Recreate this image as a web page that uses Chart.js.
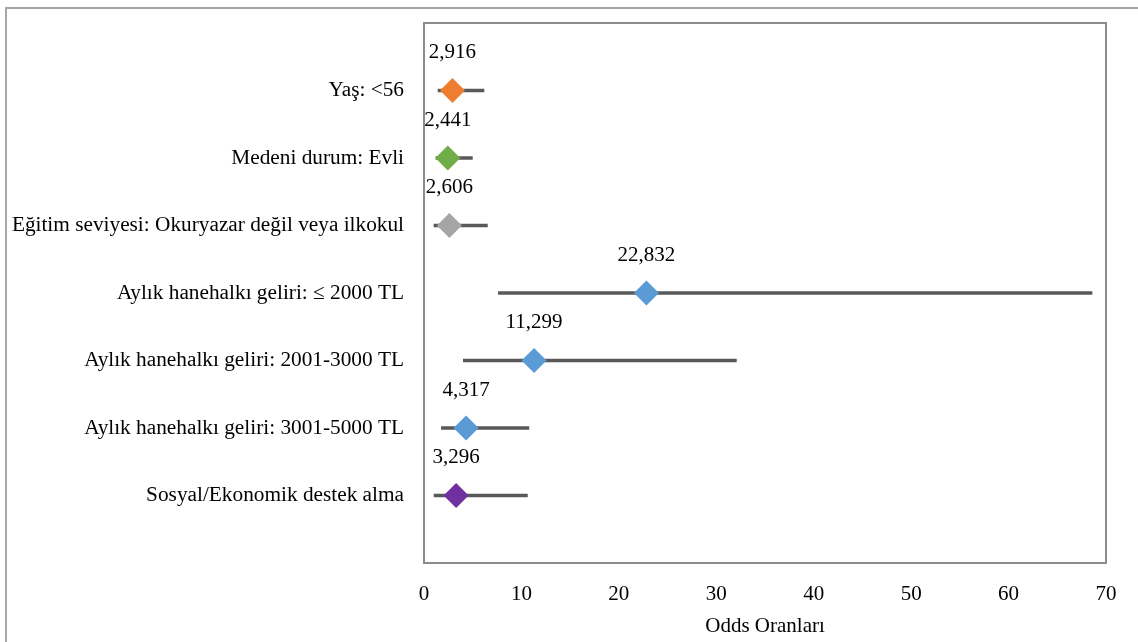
<!DOCTYPE html>
<html>
<head>
<meta charset="utf-8">
<script src="https://cdn.jsdelivr.net/npm/chart.js@4.4.1/dist/chart.umd.min.js"></script>
<style>
  html, body { margin: 0; padding: 0; background: #fff; overflow: hidden; }
  #frame { position: absolute; left: 5px; top: 7px; width: 1200px; height: 700px;
           border-left: 2px solid #a6a6a6; border-top: 2px solid #a6a6a6; }
  #wrap { position: absolute; left: 0; top: 0; width: 1138px; height: 642px; }
</style>
</head>
<body>
<div id="frame"></div>
<div id="wrap"><canvas id="c" width="1138" height="642"></canvas></div>
<script>
// Odds ratios with 95% confidence intervals, one row per factor
const categories = [
  'Yaş: <56',
  'Medeni durum: Evli',
  'Eğitim seviyesi: Okuryazar değil veya ilkokul',
  'Aylık hanehalkı geliri: ≤ 2000 TL',
  'Aylık hanehalkı geliri: 2001-3000 TL',
  'Aylık hanehalkı geliri: 3001-5000 TL',
  'Sosyal/Ekonomik destek alma'
];
const oddsRatios = [2.916, 2.441, 2.606, 22.832, 11.299, 4.317, 3.296];
const ciLower    = [1.41, 1.2, 0.99, 7.6, 4.0, 1.75, 1.0];
const ciUpper    = [6.19, 5.0, 6.54, 68.6, 32.1, 10.8, 10.65];
const markerColors = ['#ED7D31', '#70AD47', '#A5A5A5', '#5B9BD5', '#5B9BD5', '#5B9BD5', '#7030A0'];
const xTicks = [0, 10, 20, 30, 40, 50, 60, 70];

const FONT = "'Liberation Serif', 'Times New Roman', serif";

// one short line per row for the confidence interval
const ciDatasets = categories.map((c, i) => ({
  type: 'line',
  data: [{ x: ciLower[i], y: i + 1 }, { x: ciUpper[i], y: i + 1 }],
  borderColor: '#595959',
  borderWidth: 3.5,
  pointRadius: 0,
  showLine: true,
  fill: false,
  order: 2,
  datalabel: false
}));

const pointDataset = {
  type: 'scatter',
  data: oddsRatios.map((v, i) => ({ x: v, y: i + 1 })),
  pointStyle: 'rectRot',
  pointRadius: 12.5,
  pointHoverRadius: 12.5,
  pointBackgroundColor: markerColors,
  pointBorderColor: markerColors,
  pointBorderWidth: 0,
  order: 1,
  datalabel: true
};

// value labels above each diamond, decimal comma
const valueLabels = {
  id: 'valueLabels',
  afterDatasetsDraw(chart) {
    const ctx = chart.ctx;
    ctx.save();
    ctx.font = '21px ' + FONT;
    ctx.fillStyle = '#000';
    ctx.textAlign = 'center';
    ctx.textBaseline = 'middle';
    chart.data.datasets.forEach((ds, di) => {
      if (!ds.datalabel) return;
      chart.getDatasetMeta(di).data.forEach((el, i) => {
        const txt = oddsRatios[i].toFixed(3).replace('.', ',');
        ctx.fillText(txt, el.x, el.y - 38);
      });
    });
    ctx.restore();
  }
};

// box around the plotting area
const plotBox = {
  id: 'plotBox',
  afterDraw(chart) {
    const a = chart.chartArea;
    const ctx = chart.ctx;
    ctx.save();
    ctx.strokeStyle = '#8c8c8c';
    ctx.lineWidth = 2;
    ctx.strokeRect(a.left, a.top, a.right - a.left, a.bottom - a.top);
    ctx.restore();
  }
};

new Chart(document.getElementById('c'), {
  data: { datasets: [...ciDatasets, pointDataset] },
  options: {
    responsive: false,
    animation: false,
    layout: { padding: { top: 23, right: 32, left: 0, bottom: 0 } },
    plugins: { legend: { display: false }, tooltip: { enabled: false } },
    scales: {
      x: {
        type: 'linear',
        min: 0, max: 70,
        afterBuildTicks(scale) { scale.ticks = xTicks.map(v => ({ value: v })); },
        grid: { display: false, drawTicks: false },
        border: { display: false },
        ticks: { color: '#000', font: { family: FONT, size: 21 }, padding: 19, maxRotation: 0 },
        title: { display: true, text: 'Odds Oranları', color: '#000',
                 font: { family: FONT, size: 21 }, padding: { top: 4, bottom: 3 } },
        afterFit(scale) { scale.height = 79; scale.paddingLeft = 0; scale.paddingRight = 0; }
      },
      y: {
        type: 'linear',
        min: 0, max: 8,
        reverse: true,
        afterBuildTicks(scale) { scale.ticks = categories.map((c, i) => ({ value: i + 1 })); },
        grid: { display: false, drawTicks: false },
        border: { display: false },
        ticks: {
          color: '#000', font: { family: FONT, size: 21.3 }, padding: 20,
          callback: (v) => categories[v - 1] || ''
        },
        afterFit(scale) { scale.width = 424; scale.paddingTop = 0; scale.paddingBottom = 0; }
      }
    }
  },
  plugins: [valueLabels, plotBox]
});
</script>
</body>
</html>
